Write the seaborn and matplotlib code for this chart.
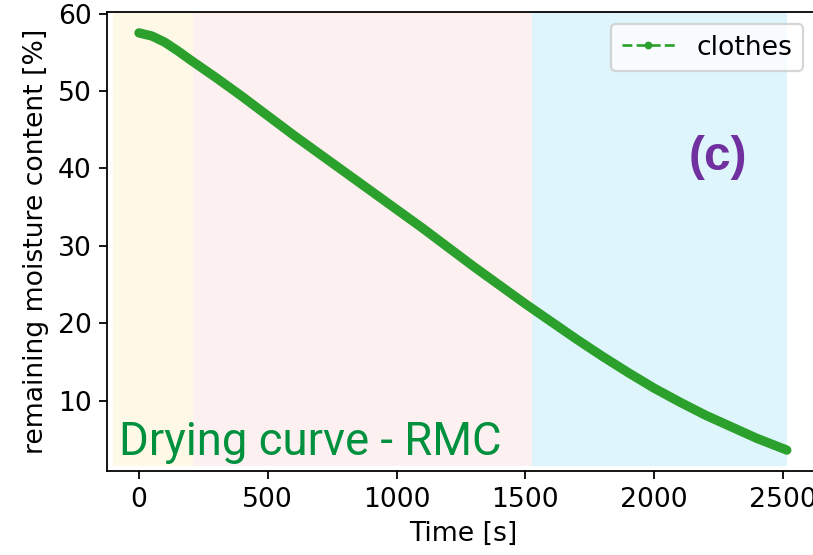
import numpy as np
import matplotlib
matplotlib.use("Agg")
import matplotlib.pyplot as plt
from matplotlib.lines import Line2D
import seaborn as sns

# drying curve
time_s = [0, 50, 100, 150, 200, 300, 400, 500, 600, 700, 800, 900, 1000, 1100,
          1200, 1300, 1400, 1500, 1600, 1700, 1800, 1900, 2000, 2100, 2200,
          2300, 2400, 2500, 2515]
rmc = [57.5, 57.1, 56.3, 55.2, 54.0, 51.7, 49.3, 46.8, 44.3, 41.9, 39.5, 37.1,
       34.7, 32.3, 29.8, 27.3, 24.9, 22.5, 20.2, 17.9, 15.7, 13.6, 11.6, 9.8,
       8.1, 6.6, 5.1, 3.8, 3.6]

# drying phases (start, end, colour)
phase_start = [-100, 210, 1526]
phase_end = [210, 1526, 2515]
phase_color = ["#fef8e7", "#fdf0f0", "#dff5fc"]

plt.rcParams["font.size"] = 12

fig = plt.figure(figsize=(813 / 160, 555 / 160), dpi=160)
ax = fig.add_axes([107 / 813, 84 / 555, 712 / 813, 459 / 555])

for s, e, c in zip(phase_start, phase_end, phase_color):
    ax.axvspan(s, e, ymin=0.011, ymax=1, color=c, lw=0, zorder=0)

sns.lineplot(x=time_s, y=rmc, ax=ax, color="#2ca02c", lw=4.2,
             solid_capstyle="round", solid_joinstyle="round",
             legend=False, zorder=3)

ax.set_xlim(-124, 2640)
ax.set_ylim(0.9, 60.2)
ax.set_xticks([0, 500, 1000, 1500, 2000, 2500])
ax.set_yticks([10, 20, 30, 40, 50, 60])
ax.set_xlabel("Time [s]")
ax.set_ylabel("remaining moisture content [%]")

handle = Line2D([], [], color="#2ca02c", ls="--", marker=".", lw=1.2,
                markersize=5)
ax.legend([handle], ["clothes"], loc="upper right",
          bbox_to_anchor=(803 / 813, 1 - 24 / 555),
          bbox_transform=fig.transFigure, borderaxespad=0)

fig.text(119 / 813, 1 - 455 / 555, "Drying curve - RMC", ha="left",
         va="baseline", fontsize=20.5, color="#00913f",
         family=["Liberation Sans Narrow", "Roboto", "DejaVu Sans"])
fig.text(718 / 813, 1 - 158 / 555, "(c)", ha="center", va="center",
         fontsize=21.5, fontweight="bold", color="#7030a0",
         family=["Liberation Sans", "DejaVu Sans"])

fig.savefig("out.png", dpi=160)
